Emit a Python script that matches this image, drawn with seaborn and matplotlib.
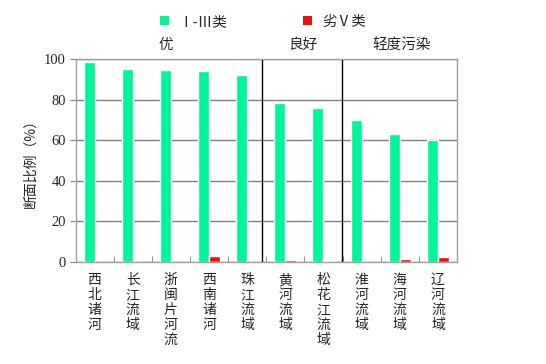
import matplotlib
matplotlib.use("Agg")
import matplotlib.pyplot as plt
import seaborn as sns
import pandas as pd
from matplotlib.patches import Patch

basins = ["西北诸河", "长江流域", "浙闽片河流", "西南诸河", "珠江流域",
          "黄河流域", "松花江流域", "淮河流域", "海河流域", "辽河流域"]
class_good = [98.4, 95.1, 94.6, 94.1, 92.1, 78.3, 75.9, 70.0, 63.1, 60.0]
class_bad = [0.0, 0.0, 0.0, 3.0, 0.0, 1.0, 0.5, 0.0, 1.5, 2.5]
series_names = ["Ⅰ-Ⅲ类", "劣Ⅴ类"]
colors = ["#00F59A", "#EE1111"]
y_ticks = [0, 20, 40, 60, 80, 100]
groups = ["优", "良好", "轻度污染"]
ylabel = "断面比例（%）"

sns.set_style("white")
plt.rcParams["font.family"] = ["Noto Sans CJK SC", "DejaVu Sans"]

df = pd.DataFrame({
    "basin": basins * 2,
    "series": [series_names[0]] * len(basins) + [series_names[1]] * len(basins),
    "value": class_good + class_bad,
})

fig = plt.figure(figsize=(5.46, 3.64), dpi=100)
ax = fig.add_axes([75.5 / 546, (364 - 262) / 364, (457 - 75.5) / 546, 203 / 364])

sns.barplot(data=df, x="basin", y="value", hue="series", order=basins,
            hue_order=series_names, palette=colors, width=0.58,
            saturation=1, dodge=True, legend=False, ax=ax)

ax.set_ylim(0, 100)
ax.set_xlim(-0.5, len(basins) - 0.5)
ax.set_yticks(y_ticks)
ax.set_yticklabels([str(v) for v in y_ticks])
for lbl in ax.get_yticklabels():
    lbl.set_fontfamily(["Liberation Serif"])
    lbl.set_fontsize(10.5)
ax.yaxis.grid(True, color="#808080", linewidth=1)
ax.set_axisbelow(True)
for s in ax.spines.values():
    s.set_color("#A0A0A0")
    s.set_linewidth(1)
ax.tick_params(axis="y", direction="out", length=4, color="#808080", pad=3, left=True)

ax.set_xticks(range(len(basins)))
ax.set_xticklabels(["\n".join(b) for b in basins], fontsize=10, linespacing=1.08, va="top")
ax.tick_params(axis="x", length=0, pad=8)
ax.set_xticks([i + 0.5 for i in range(len(basins) - 1)], minor=True)
ax.tick_params(axis="x", which="minor", direction="in", length=4, color="#808080", bottom=True)
ax.set_xlabel("")
ax.set_ylabel(ylabel, fontsize=10)
ax.yaxis.set_label_coords((30 - 75.5) / 381.5, 0.5)
ax.yaxis.label.set_va("center")

for xv in [4.38, 6.48]:
    ax.axvline(xv, color="black", linewidth=1)

for gx, g in zip([1.87, 5.46, 8.06], groups):
    ax.text(gx, 107, g, ha="center", va="center", fontsize=10.5, clip_on=False)

handles = [Patch(facecolor=c, edgecolor="none") for c in colors]
fig.legend(handles, series_names, loc="center", bbox_to_anchor=(263 / 546, 1 - 22 / 364),
           ncol=2, frameon=False, fontsize=10.5, handlelength=0.6, handleheight=0.6,
           handletextpad=0.7, columnspacing=5.2, borderpad=0)

fig.savefig("out.png", dpi=100)
